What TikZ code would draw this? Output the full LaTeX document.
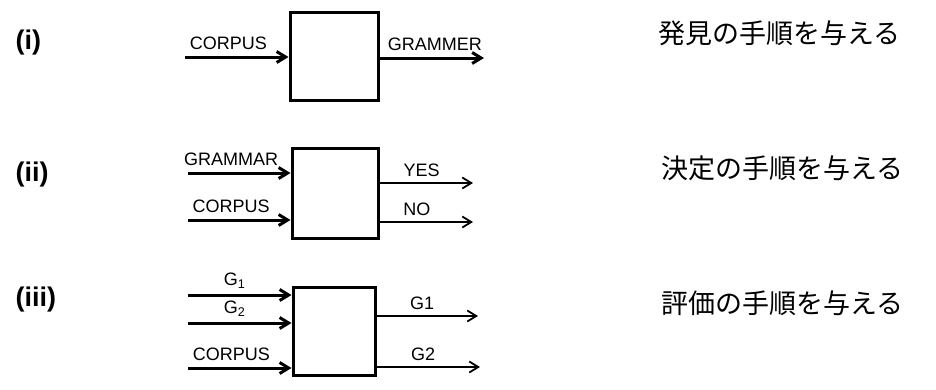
\documentclass[tikz,border=0pt]{standalone}
\usepackage{fontspec}
\setmainfont{Liberation Sans}
\newfontfamily\jpfont{Noto Sans CJK JP}
\usetikzlibrary{arrows.meta,positioning}

\begin{document}
\begin{tikzpicture}[x=1pt, y=-1pt, >={Straight Barb[length=9pt,width=11pt]},
  font=\fontsize{18}{20}\selectfont,
  procbox/.style={draw, line width=3pt, minimum width=86pt, minimum height=88pt, inner sep=0pt},
  inarr/.style={->, line width=3pt},
  outarr/.style={->, line width=1.8pt},
  lbl/.style={above=2pt}]
\useasboundingbox (0,0) rectangle (936,389);
% row labels
\foreach \n/\y/\t in {r1/43/(i), r2/175/(ii), r3/300/(iii)}
  \node[anchor=west, font=\fontsize{27}{30}\selectfont\bfseries] (\n) at (12,\y) {\t};
% japanese remarks
\foreach \n/\x/\y/\t in {j1/655/33/発見の手順を与える, j2/658/168/決定の手順を与える, j3/658/303/評価の手順を与える}
  \node[anchor=west, font=\jpfont\fontsize{27}{30}\selectfont] (\n) at (\x,\y) {\t};
% (i)
\node[procbox, minimum width=88pt] (b1) at (334,56) {};
\coordinate (s1) at (185,57);
\coordinate (t1) at (484,58);
\draw[inarr] (s1) -- (s1 -| b1.west) node[pos=0.42,lbl] (l1) {CORPUS};
\draw[inarr] (b1.east |- t1) -- (t1) node[pos=0.53,lbl] (l2) {GRAMMER};
% (ii)
\node[procbox, minimum height=90pt] (b2) at (335,193) {};
\coordinate (s2) at (188,173);
\coordinate (s3) at (188,220);
\coordinate (t2) at (473,183);
\coordinate (t3) at (473,222);
\draw[inarr] (s2) -- (s2 -| b2.west) node[pos=0.42,lbl] (l3) {GRAMMAR};
\draw[inarr] (s3) -- (s3 -| b2.west) node[pos=0.42,lbl] (l4) {CORPUS};
\draw[outarr] (b2.east |- t2) -- (t2) node[pos=0.45,lbl] (l5) {YES};
\draw[outarr] (b2.east |- t3) -- (t3) node[pos=0.4,lbl] (l6) {NO};
% (iii)
\node[procbox, minimum width=82pt] (b3) at (334,331) {};
\coordinate (s4) at (188,295);
\coordinate (s5) at (188,323);
\coordinate (s6) at (188,368);
\coordinate (t4) at (478,316);
\coordinate (t5) at (480,367);
\draw[inarr] (s4) -- (s4 -| b3.west) node[pos=0.45,lbl] (l7) {G\textsubscript{1}};
\draw[inarr] (s5) -- (s5 -| b3.west) node[pos=0.45,lbl] (l8) {G\textsubscript{2}};
\draw[inarr] (s6) -- (s6 -| b3.west) node[pos=0.42,lbl] (l9) {CORPUS};
\draw[outarr] (b3.east |- t4) -- (t4) node[pos=0.45,lbl] (l10) {G1};
\draw[outarr] (b3.east |- t5) -- (t5) node[pos=0.45,lbl] (l11) {G2};
\end{tikzpicture}
\end{document}
